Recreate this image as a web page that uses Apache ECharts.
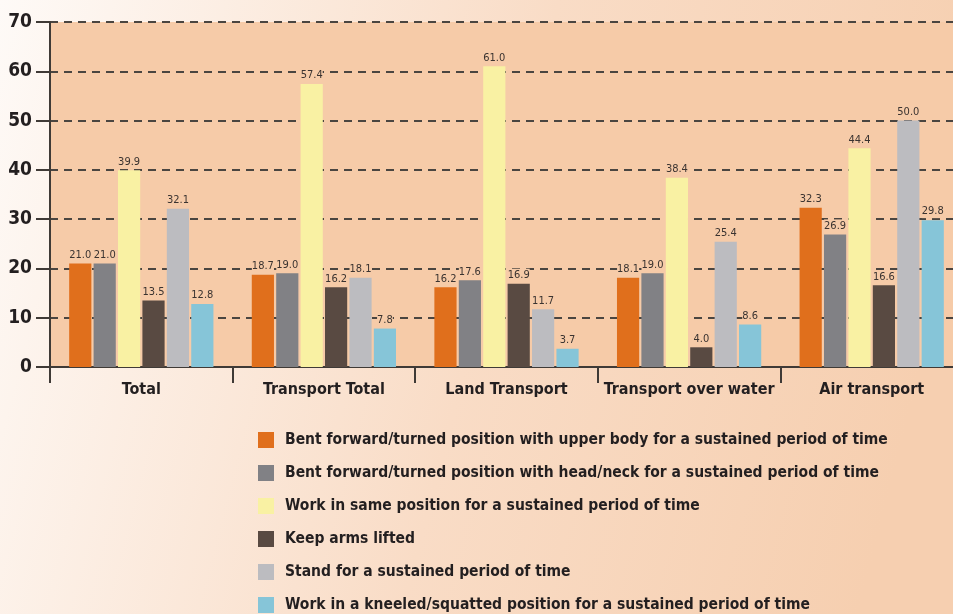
<!DOCTYPE html>
<html>
<head>
<meta charset="utf-8">
<script src="https://cdn.jsdelivr.net/npm/echarts@6/dist/echarts.min.js"></script>
<style>
  html, body { margin: 0; padding: 0; }
  #chart { width: 953px; height: 614px; }
</style>
</head>
<body>
<div id="chart"></div>
<script>
const categories = ['Total', 'Transport Total', 'Land Transport', 'Transport over water', 'Air transport']
const seriesNames = [
  'Bent forward/turned position with upper body for a sustained period of time',
  'Bent forward/turned position with head/neck for a sustained period of time',
  'Work in same position for a sustained period of time',
  'Keep arms lifted',
  'Stand for a sustained period of time',
  'Work in a kneeled/squatted position for a sustained period of time',
]
const upperBody = [21.0, 18.7, 16.2, 18.1, 32.3]
const headNeck = [21.0, 19.0, 17.6, 19.0, 26.9]
const samePosition = [39.9, 57.4, 61.0, 38.4, 44.4]
const armsLifted = [13.5, 16.2, 16.9, 4.0, 16.6]
const standing = [32.1, 18.1, 11.7, 25.4, 50.0]
const kneeled = [12.8, 7.8, 3.7, 8.6, 29.8]
const yTicks = [0, 10, 20, 30, 40, 50, 60, 70]

const colors = ['#e06f1c', '#818185', '#f9f1a3', '#594a42', '#bcbcc0', '#86c5d8']
const allData = [upperBody, headNeck, samePosition, armsLifted, standing, kneeled]
const font = '"DejaVu Sans Condensed", "Liberation Sans Narrow", sans-serif'
const plotBg = '#f6cba8'
const ink = '#231f20'

const chart = echarts.init(document.getElementById('chart'))

chart.setOption({
  backgroundColor: {
    type: 'linear', x: 0, y: 0, x2: 1, y2: 0.4,
    colorStops: [
      { offset: 0, color: '#fefaf7' },
      { offset: 0.55, color: '#f9dcc6' },
      { offset: 1, color: '#f6cfb0' },
    ],
  },
  animation: false,
  textStyle: { fontFamily: font },
  color: colors,
  // plot runs past the right edge of the picture, as in the original
  grid: {
    left: 50, right: -10, top: 22, bottom: 247,
    outerBoundsMode: 'none',
    show: true, backgroundColor: plotBg, borderWidth: 0,
  },
  legend: {
    orient: 'vertical',
    left: 258, top: 431, height: 260, padding: 0,
    itemWidth: 16, itemHeight: 16, itemGap: 15,
    icon: 'rect',
    data: seriesNames,
    textStyle: {
      fontFamily: font, fontSize: 15.5, fontWeight: 'bold', color: ink,
      lineHeight: 18, padding: [0, 0, 0, 6],
    },
  },
  xAxis: {
    type: 'category',
    data: categories,
    axisLine: { lineStyle: { color: '#3f3a36', width: 2 } },
    axisTick: { show: true, interval: 0, length: 16, lineStyle: { color: '#3f3a36', width: 2 } },
    axisLabel: { interval: 0, fontFamily: font, fontSize: 16, fontWeight: 'bold', color: ink, margin: 15 },
  },
  yAxis: {
    type: 'value',
    min: 0, max: 70, interval: 10,
    axisLine: { show: true, lineStyle: { color: '#3f3a36', width: 2 } },
    axisTick: { show: true, inside: false, length: 14, lineStyle: { color: '#3f3a36', width: 2 } },
    axisLabel: {
      fontFamily: font, fontSize: 19, fontWeight: 'bold', color: ink, margin: 18,
      formatter: v => yTicks.includes(v) ? String(v) : '',
    },
    splitLine: { show: true, lineStyle: { color: '#4a4540', width: 2, type: [8, 6] } },
  },
  series: allData.map((d, i) => ({
    name: seriesNames[i],
    type: 'bar',
    data: d,
    barGap: '10%',
    barCategoryGap: '21%',
    itemStyle: { color: colors[i] },
    label: {
      show: true, position: 'top', distance: 2,
      fontFamily: font, fontSize: 11, color: '#3a3330',
      backgroundColor: plotBg, padding: [1, 0],
      formatter: p => p.value.toFixed(1),
    },
  })),
})
</script>
</body>
</html>
